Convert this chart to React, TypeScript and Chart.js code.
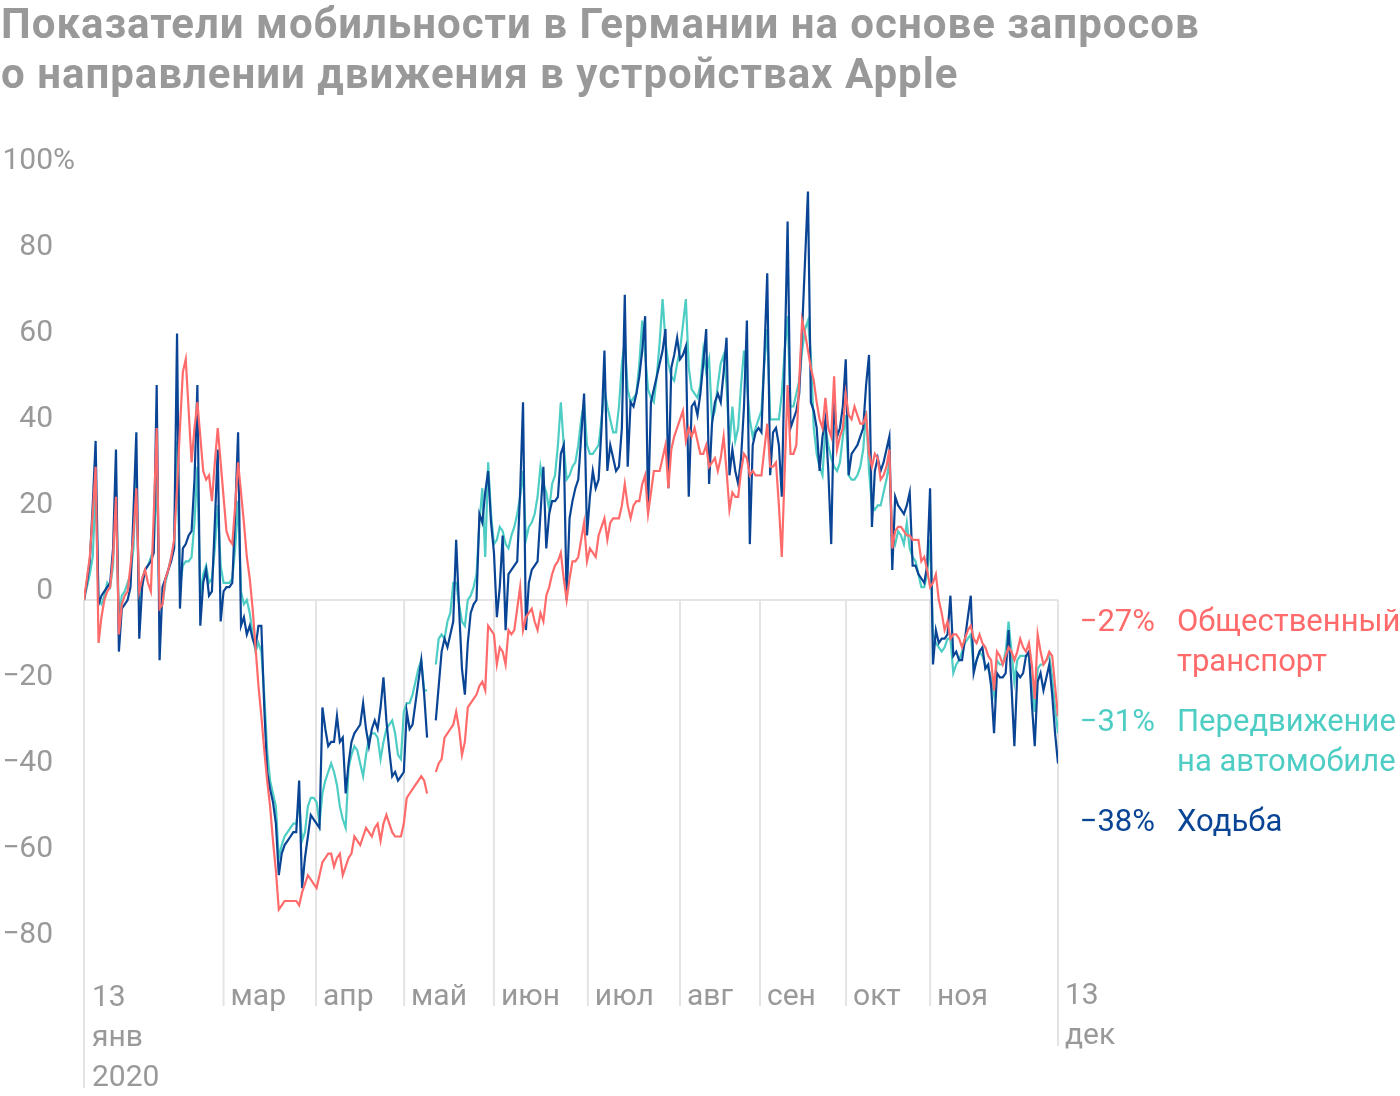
import React, { useEffect, useRef } from "react";
import { Chart, registerables } from "chart.js";

Chart.register(...registerables);

// Daily values, 13 Jan 2020 (day 0) … 13 Dec 2020 (day 335), % change vs. 13 Jan
const publicTransport: (number | null)[] = [
  0, 5, 10, 20, 31, -10, -4,
  0, 2, 3, 10, 24, -8, -1,
  1, 2, 8, 15, 26, 2, 5,
  7, 4, 2, 20, 40, -2, -1,
  5, 7, 10, 14, 26, 40, 53,
  56, 44, 32, 40, 46, 38, 30,
  28, 29, 23, 32, 40, 32, 24,
  16, 14, 13, 22, 32, 25, 18,
  10, 5, -2, -11, -20, -27, -35,
  -42, -48, -56, -63, -72, -71, -70,
  -70, -70, -70, -70, -71, -68, -66,
  -64, -65, -66, -67, -64, -61, -60,
  -59, -59, -62, -60, -59, -64, -62,
  -60, -59, -55, -56, -57, -55, -53,
  -54, -55, -53, -52, -56, -52, -50,
  -52, -54, -55, -55, -55, -52, -46,
  -45, -44, -43, -42, -41, -42, -45,
  null, null, -40, -38, -37, -32, -31,
  -30, -29, -26, -30, -36, -33, -25,
  -24, -23, -22, -20, -19, -21, -6,
  -7, -8, -15, -11, -12, -15, -7,
  -8, -7, -2, 3, -7, -4, -3,
  -2, -5, -7, -3, -5, 1, 3,
  6, 8, 9, 11, 5, 0, 5,
  9, 9, 10, 14, 18, 9, 12,
  11, 10, 15, 17, 19, 14, 18,
  19, 19, 19, 22, 27, 22, 19,
  22, 23, 23, 27, 29, 20, 25,
  30, 30, 30, 33, 36, 26, 35,
  38, 40, 42, 44, 37, 40, 38,
  40, 37, 34, 34, 36, 31, 32,
  33, 30, 33, 38, 30, 21, 25,
  24, 24, 30, 34, 33, 29, 30,
  29, 29, 29, 35, 41, 31, 31,
  32, 22, 10, 30, 50, 34, 34,
  36, 51, 65, 62, 58, 54, 51,
  46, 42, 40, 47, 40, 38, 52,
  35, 38, 40, 48, 43, 42, 45,
  43, 41, 41, 43, 34, 31, 34,
  33, 28, 29, 31, 35, 12, 16,
  17, 17, 16, 15, 15, 14, 14,
  14, 9, 10, 7, 3, 4, 6,
  0, -3, -7, -5, -9, -8, -8,
  -9, -11, -9, -7, -6, -9, -10,
  -8, -10, -11, -13, -14, -21, -12,
  -13, -15, -13, -11, -12, -14, -12,
  -9, -11, -12, -10, -15, -23, -8,
  -12, -15, -14, -12, -13, -20, -27,
];

const driving: (number | null)[] = [
  0, 3, 6, 10, 26, 0, -1,
  1, 4, 3, 8, 26, -4, 1,
  2, 4, 6, 12, 29, -3, 5,
  7, 8, 10, 12, 30, -2, -1,
  4, 7, 10, 12, 37, 3, 8,
  9, 9, 10, 18, 31, 1, 6,
  8, 4, 5, 12, 22, 8, 4,
  4, 4, 5, 12, 23, 2, -1,
  0, -3, -8, -12, -10, -12, -22,
  -35, -42, -45, -48, -60, -57, -55,
  -54, -53, -52, -52, -47, -56, -54,
  -48, -46, -46, -47, -52, -45, -42,
  -40, -38, -40, -43, -48, -51, -53,
  -39, -36, -34, -35, -38, -41, -36,
  -32, -31, -31, -32, -37, -33, -30,
  -29, -28, -31, -36, -37, -26, -24,
  -24, -22, -19, -16, -14, -21, -21,
  null, null, -15, -9, -8, -9, -5,
  -3, 4, 4, -1, -5, -6, 0,
  1, 3, 6, 18, 26, 10, 32,
  20, 13, 14, 17, 16, 13, 12,
  15, 17, 20, 24, 30, 14, 17,
  18, 20, 24, 31, 27, 25, 21,
  27, 29, 36, 46, 36, 28, 29,
  31, 32, 36, 42, 46, 36, 34,
  34, 35, 36, 42, 49, 45, 42,
  39, 39, 45, 55, 60, 49, 46,
  47, 48, 55, 65, 57, 49, 47,
  46, 52, 60, 70, 60, 55, 52,
  51, 55, 58, 64, 70, 54, 49,
  48, 47, 50, 58, 53, 56, 42,
  44, 50, 55, 57, 50, 36, 45,
  37, 40, 50, 58, 50, 42, 38,
  40, 42, 44, 55, 63, 42, 42,
  42, 42, 48, 58, 66, 45, 45,
  48, 51, 58, 63, 65, 57, 40,
  34, 31, 29, 40, 36, 33, 31,
  30, 32, 38, 43, 29, 28, 28,
  29, 31, 35, 44, 30, 22, 21,
  22, 22, 25, 28, 32, 15, 13,
  16, 15, 13, 18, 12, 10, 9,
  6, 3, 3, 6, 14, -8, -10,
  -11, -12, -11, -9, -9, -17, -15,
  -14, -12, -10, -9, -8, -16, -14,
  -12, -13, -15, -16, -18, -22, -14,
  -15, -15, -12, -5, -12, -19, -14,
  -13, -13, -13, -13, -20, -26, -16,
  -15, -15, -14, -13, -18, -25, -31,
];

const walking: (number | null)[] = [
  0, 4, 9, 22, 37, -1, 1,
  2, 3, 4, 12, 35, -12, -2,
  -1, 0, 3, 20, 39, -9, 3,
  7, 8, 9, 11, 50, -14, 3,
  5, 7, 9, 12, 62, -2, 12,
  13, 15, 16, 28, 50, -6, 4,
  7, 1, 2, 18, 35, -5, 2,
  3, 3, 4, 20, 39, -6, -4,
  -8, -6, -9, -11, -6, -6, -25,
  -40, -44, -47, -52, -64, -59, -57,
  -56, -55, -54, -54, -42, -67, -60,
  -55, -50, -51, -52, -53, -25, -30,
  -34, -33, -33, -27, -33, -32, -45,
  -38, -33, -31, -30, -29, -24, -30,
  -34, -30, -28, -30, -25, -18, -28,
  -35, -41, -40, -42, -41, -40, -26,
  -30, -29, -24, -19, -14, -22, -32,
  null, null, -28, -20, -12, -9, -11,
  -8, -5, 14, -2, -16, -22, -10,
  -3, -1, 0, 20, 18, 25, 30,
  18, 11, -4, 3, 15, -7, 6,
  7, 8, 9, 25, 46, -7, 4,
  7, 8, 9, 20, 31, 12, 20,
  23, 23, 24, 34, 36, 0, 19,
  23, 26, 28, 38, 48, 15, 24,
  30, 26, 28, 40, 58, 30, 36,
  33, 30, 31, 40, 71, 31, 46,
  45, 48, 52, 58, 66, 21, 46,
  49, 52, 55, 58, 63, 26, 54,
  57, 61, 56, 57, 59, 24, 45,
  46, 43, 48, 55, 63, 27, 41,
  46, 48, 46, 53, 61, 29, 35,
  30, 27, 33, 45, 65, 13, 36,
  39, 40, 39, 57, 76, 29, 39,
  40, 36, 24, 56, 88, 40, 42,
  44, 48, 63, 79, 95, 46, 44,
  40, 30, 38, 42, 30, 13, 46,
  38, 40, 45, 56, 29, 34, 35,
  36, 38, 40, 50, 57, 17, 30,
  33, 30, 32, 35, 38, 7, 24,
  22, 21, 20, 22, 25, 8, 8,
  6, 5, 4, 8, 26, -15, -7,
  -10, -9, -9, -8, 1, -13, -12,
  -14, -14, -9, -4, 1, -17, -14,
  -12, -11, -16, -15, -20, -31, -17,
  -18, -18, -17, -7, -20, -34, -17,
  -18, -17, -13, -12, -24, -34, -19,
  -17, -21, -18, -15, -22, -31, -38,
];

const seriesNames = [["Общественный", "транспорт"], ["Передвижение", "на автомобиле"], ["Ходьба"]];
const yTickValues = [100, 80, 60, 40, 20, 0, -20, -40, -60, -80];
const monthTickDays = [48, 79.8, 110.1, 141, 173.3, 205, 232.5, 262.1, 291];
const monthTickLabels = ["мар", "апр", "май", "июн", "июл", "авг", "сен", "окт", "ноя"];
const startLabels = ["13", "янв", "2020"];
const endLabels = ["13", "дек"];
const titleLines = [
  "Показатели мобильности в Германии на основе запросов",
  "о направлении движения в устройствах Apple",
];

const RED = "#FF6B6B";
const TEAL = "#4ECDC4";
const BLUE = "#0A4595";
const GRAY = "#999999";
const GRID = "#e4e4e4";
const FONT = '"Roboto", "DejaVu Sans", sans-serif';

const toPoints = (arr: (number | null)[]) => arr.map((v, i) => ({ x: i, y: v }));
const minus = (v: number) => (v < 0 ? "\u2212" + Math.abs(v) : String(v));

const decor = {
  id: "decor",
  beforeDatasetsDraw(chart: any) {
    const { ctx, scales } = chart;
    const x = scales.x;
    const y = scales.y;
    const y0 = y.getPixelForValue(0);
    const lastDay = walking.length - 1;
    ctx.save();
    ctx.strokeStyle = GRID;
    ctx.lineWidth = 2;
    ctx.beginPath();
    ctx.moveTo(x.getPixelForValue(0), y0);
    ctx.lineTo(x.getPixelForValue(lastDay), y0);
    ctx.stroke();
    const vline = (px: number, bottom: number) => {
      ctx.beginPath();
      ctx.moveTo(px, y0);
      ctx.lineTo(px, bottom);
      ctx.stroke();
    };
    vline(x.getPixelForValue(0), 1088);
    vline(x.getPixelForValue(lastDay), 1046);
    monthTickDays.forEach((d) => vline(x.getPixelForValue(d), 1006));
    ctx.restore();
  },
  afterDraw(chart: any) {
    const { ctx, scales } = chart;
    const x = scales.x;
    const y = scales.y;
    const lastDay = walking.length - 1;
    ctx.save();
    // title
    ctx.fillStyle = GRAY;
    ctx.font = `bold 42px ${FONT}`;
    ctx.textAlign = "left";
    ctx.textBaseline = "alphabetic";
    (ctx as any).letterSpacing = "1px";
    ctx.fillText(titleLines[0], 1, 38);
    ctx.fillText(titleLines[1], 1, 88);
    (ctx as any).letterSpacing = "0px";
    // y labels
    ctx.font = `30px ${FONT}`;
    yTickValues.forEach((v) => {
      const py = y.getPixelForValue(v) - 1;
      ctx.textAlign = "right";
      ctx.fillText(minus(v), 53, py);
      if (v === 100) {
        ctx.textAlign = "left";
        ctx.fillText("%", 53, py);
      }
    });
    // x labels
    ctx.textAlign = "left";
    const x0 = x.getPixelForValue(0);
    startLabels.forEach((t, i) => ctx.fillText(t, x0 + 8, 1006 + i * 40));
    monthTickDays.forEach((d, i) => ctx.fillText(monthTickLabels[i], x.getPixelForValue(d) + 7, 1005));
    const xe = x.getPixelForValue(lastDay);
    endLabels.forEach((t, i) => ctx.fillText(t, xe + 7, 1004 + i * 40));
    // right-hand labels
    ctx.font = `31px ${FONT}`;
    const lasts = [publicTransport, driving, walking].map((a) => Math.round(a[a.length - 1] as number));
    const colors = [RED, TEAL, BLUE];
    const baselines = [631, 731, 831];
    lasts.forEach((v, i) => {
      ctx.fillStyle = colors[i];
      ctx.textAlign = "right";
      ctx.fillText(minus(v) + "%", 1155, baselines[i]);
      ctx.textAlign = "left";
      seriesNames[i].forEach((t, j) => ctx.fillText(t, 1177, baselines[i] + j * 40));
    });
    ctx.restore();
  },
};

export default function App() {
  const ref = useRef<HTMLCanvasElement>(null);
  useEffect(() => {
    const chart = new Chart(ref.current as HTMLCanvasElement, {
      type: "line",
      data: {
        datasets: [
          { data: toPoints(publicTransport), borderColor: RED },
          { data: toPoints(walking), borderColor: BLUE },
          { data: toPoints(driving), borderColor: TEAL },
        ] as any,
      },
      options: {
        responsive: false,
        devicePixelRatio: 1,
        animation: false,
        events: [],
        spanGaps: false,
        layout: { padding: { left: 84, right: 342, top: 170, bottom: 109 } },
        elements: {
          point: { radius: 0 },
          line: { borderWidth: 2.2, tension: 0, borderJoinStyle: "miter" as any },
        },
        scales: {
          x: { type: "linear", min: 0, max: 335, display: false },
          y: { type: "linear", min: -90, max: 100, display: false },
        },
        plugins: { legend: { display: false }, tooltip: { enabled: false }, title: { display: false } },
      },
      plugins: [decor],
    });
    return () => chart.destroy();
  }, []);
  return (
    <div style={{ position: "absolute", left: 0, top: 0, width: 1400, height: 1096, background: "#fff" }}>
      <canvas ref={ref} width={1400} height={1096} style={{ width: 1400, height: 1096, display: "block" }} />
    </div>
  );
}
